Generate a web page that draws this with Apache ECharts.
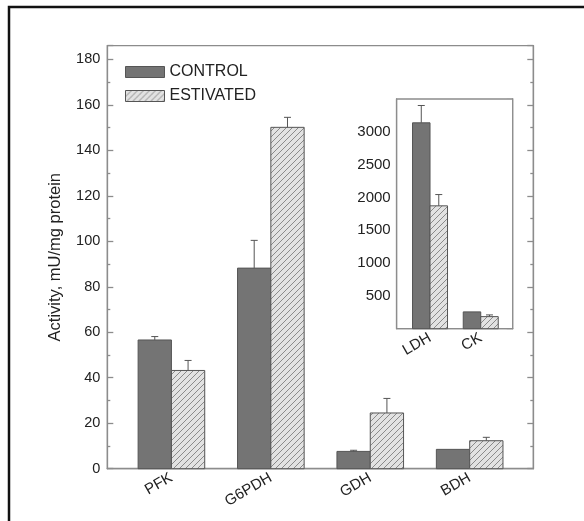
<!DOCTYPE html>
<html>
<head>
<meta charset="utf-8">
<script src="https://cdn.jsdelivr.net/npm/echarts@6/dist/echarts.min.js"></script>
<style>
  html, body { margin: 0; padding: 0; background: #fff; }
  #main { width: 584px; height: 521px; }
</style>
</head>
<body>
<div id="main"></div>
<script>
var categories = ['PFK', 'G6PDH', 'GDH', 'BDH'];
var controlMean = [56.6, 88.2, 7.6, 8.5];
var controlErr = [1.5, 12.2, 0.5, 0];
var estivatedMean = [43.2, 150.1, 24.5, 12.3];
var estivatedErr = [4.4, 4.4, 6.4, 1.5];

var insetCategories = ['LDH', 'CK'];
var insetControlMean = [3137, 256];
var insetControlErr = [264, 0];
var insetEstivatedMean = [1872, 184];
var insetEstivatedErr = [172, 26];

var FONT = 'Liberation Sans';
var AXIS = '#8c8c8c';
var EDGE = '#555';
var DARK = '#747474';

// hatch fill for the estivated bars
function makeHatch(){
    var s = 6;
    var c = document.createElement('canvas');
    c.width = s; c.height = s;
    var ctx = c.getContext('2d');
    ctx.fillStyle = '#e2e2e2';
    ctx.fillRect(0, 0, s, s);
    ctx.strokeStyle = '#8a8a8a';
    ctx.lineWidth = 1;
    ctx.beginPath();
    ctx.moveTo(0, s); ctx.lineTo(s, 0);
    ctx.moveTo(-1, 1); ctx.lineTo(1, -1);
    ctx.moveTo(s - 1, s + 1); ctx.lineTo(s + 1, s - 1);
    ctx.stroke();
    return { image: c, repeat: 'repeat' };
}
var hatch = makeHatch();

function rows(mean, err){
    var out = [];
    for(var i = 0; i < mean.length; i++){
        out.push([i + 1, mean[i], err[i]]);
    }
    return out;
}

function barRender(offset, width, fill){
    return function(params, api){
        var x = api.value(0), v = api.value(1), e = api.value(2);
        var lo = api.coord([x + offset, 0]);
        var hi = api.coord([x + offset + width, v]);
        var cx = (lo[0] + hi[0]) / 2;
        var top = api.coord([x, v + e])[1];
        var line = { stroke: EDGE, lineWidth: 1 };
        var children = [{
            type: 'rect',
            shape: { x: lo[0], y: hi[1], width: hi[0] - lo[0], height: lo[1] - hi[1] },
            style: { fill: fill, stroke: EDGE, lineWidth: 1 }
        }];
        if(e > 0){
            children.push({ type: 'line', shape: { x1: cx, y1: hi[1], x2: cx, y2: top }, style: line });
            children.push({ type: 'line', shape: { x1: cx - 3.5, y1: top, x2: cx + 3.5, y2: top }, style: line });
        }
        return { type: 'group', children: children };
    };
}

function valueAxis(opts){
    var base = {
        type: 'value',
        axisLine: { show: true, lineStyle: { color: AXIS, width: 1.3 } },
        axisTick: { show: true, inside: true, length: 6, lineStyle: { color: AXIS, width: 1.3 } },
        splitLine: { show: false },
        axisLabel: { color: '#222', fontSize: 14.5, fontFamily: FONT, margin: 7 }
    };
    for(var k in opts){ base[k] = opts[k]; }
    return base;
}

var myChart = echarts.init(document.getElementById('main'));

myChart.setOption({
    backgroundColor: '#fff',
    animation: false,
    graphic: [{
        type: 'rect',
        shape: { x: 9, y: 7, width: 700, height: 700 },
        style: { fill: 'none', stroke: '#111', lineWidth: 2.5 },
        silent: true
    }],
    legend: {
        left: 120,
        top: 59,
        orient: 'vertical',
        itemWidth: 39,
        itemHeight: 11,
        itemGap: 8,
        textStyle: { fontSize: 16, fontFamily: FONT, color: '#222' },
        data: [
            { name: 'CONTROL', icon: 'rect', itemStyle: { color: DARK, borderColor: EDGE, borderWidth: 1 } },
            { name: 'ESTIVATED', icon: 'rect', itemStyle: { color: hatch, borderColor: EDGE, borderWidth: 1 } }
        ]
    },
    grid: [
        { left: 107.3, top: 45.7, width: 426, height: 423, show: true, borderColor: AXIS, borderWidth: 1.3, backgroundColor: 'transparent' },
        { left: 396.7, top: 99, width: 116, height: 229.7, show: true, borderColor: AXIS, borderWidth: 1.3, backgroundColor: '#fff', z: 5 }
    ],
    xAxis: [
        valueAxis({
            gridIndex: 0, min: 0.355, max: 4.64,
            axisTick: { show: false },
            axisLabel: {
                customValues: [1, 2, 3, 4], rotate: 30, margin: 8,
                color: '#222', fontSize: 15, fontFamily: FONT,
                formatter: function(v){ return categories[Math.round(v) - 1] || ''; }
            }
        }),
        valueAxis({
            gridIndex: 1, min: 0.343, max: 2.63,
            axisTick: { show: false },
            axisLabel: {
                customValues: [1, 2], rotate: 30, margin: 8,
                color: '#222', fontSize: 15, fontFamily: FONT,
                formatter: function(v){ return insetCategories[Math.round(v) - 1] || ''; }
            }
        })
    ],
    yAxis: [
        valueAxis({
            gridIndex: 0, min: 0, max: 186, interval: 20,
            name: 'Activity, mU/mg protein', nameLocation: 'middle', nameGap: 43,
            nameTextStyle: { fontSize: 16.5, fontFamily: FONT, color: '#222' },
            minorTick: { show: true, splitNumber: 2, length: 3, lineStyle: { color: AXIS, width: 1.3 } },
            axisLabel: { color: '#222', fontSize: 14.5, fontFamily: FONT, margin: 7, showMaxLabel: false }
        }),
        valueAxis({
            gridIndex: 0, position: 'right', min: 0, max: 186, interval: 20,
            minorTick: { show: true, splitNumber: 2, length: 3, lineStyle: { color: AXIS, width: 1.3 } },
            axisLabel: { show: false }
        }),
        valueAxis({
            gridIndex: 1, min: 0, max: 3500, interval: 500,
            axisLabel: {
                color: '#222', fontSize: 15, fontFamily: FONT, margin: 6,
                showMinLabel: false, showMaxLabel: false,
                formatter: function(v){ return String(v); }
            }
        }),
        valueAxis({
            gridIndex: 1, position: 'right', min: 0, max: 3500, interval: 500,
            axisLabel: { show: false }
        })
    ],
    series: [{
        name: 'CONTROL', type: 'custom', xAxisIndex: 0, yAxisIndex: 0,
        itemStyle: { color: DARK },
        renderItem: barRender(-0.335, 0.335, DARK),
        data: rows(controlMean, controlErr)
    },{
        name: 'ESTIVATED', type: 'custom', xAxisIndex: 0, yAxisIndex: 0,
        itemStyle: { color: hatch },
        renderItem: barRender(0, 0.335, hatch),
        data: rows(estivatedMean, estivatedErr)
    },{
        name: 'CONTROL', type: 'custom', xAxisIndex: 1, yAxisIndex: 2, z: 6,
        itemStyle: { color: DARK },
        renderItem: barRender(-0.345, 0.345, DARK),
        data: rows(insetControlMean, insetControlErr)
    },{
        name: 'ESTIVATED', type: 'custom', xAxisIndex: 1, yAxisIndex: 2, z: 6,
        itemStyle: { color: hatch },
        renderItem: barRender(0, 0.345, hatch),
        data: rows(insetEstivatedMean, insetEstivatedErr)
    }]
});
</script>
</body>
</html>
